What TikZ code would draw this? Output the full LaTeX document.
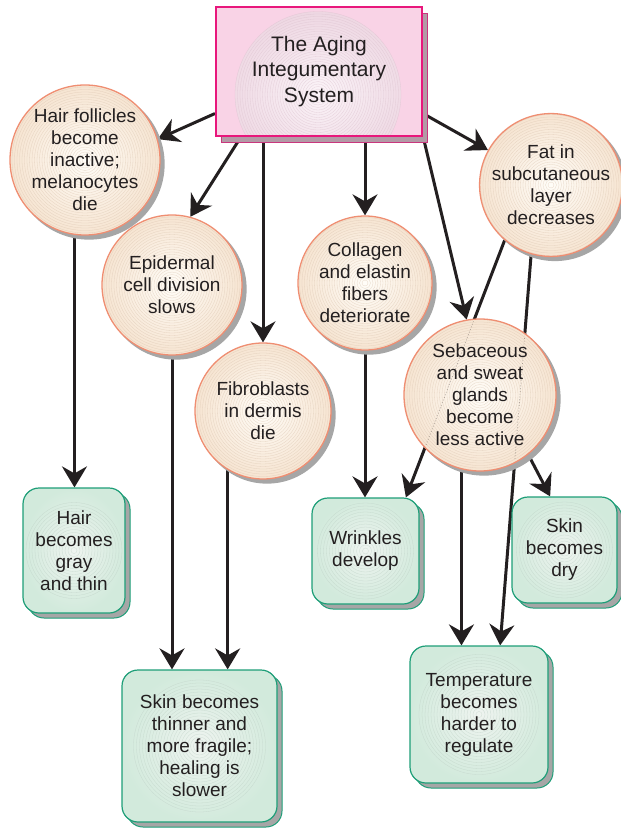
\documentclass[tikz,border=0pt]{standalone}
\usepackage{fontspec}
\setmainfont{Liberation Sans}
\usetikzlibrary{arrows.meta,shadows,backgrounds,calc}
\definecolor{txt}{HTML}{231F20}
\definecolor{circedge}{HTML}{EF8E72}
\definecolor{circin}{HTML}{FFFDF8}
\definecolor{circout}{HTML}{F6E4D1}
\definecolor{ringc}{HTML}{D9C3AE}
\definecolor{shgray}{HTML}{A6A6A6}
\definecolor{grnedge}{HTML}{1E9E78}
\definecolor{grnin}{HTML}{EFF4F0}
\definecolor{grnout}{HTML}{D2EADC}
\definecolor{grnring}{HTML}{BCCFC4}
\definecolor{pinkfill}{HTML}{F9D3E6}
\definecolor{pinkedge}{HTML}{E8177C}
\definecolor{pinkin}{HTML}{FBF4F8}
\definecolor{pinkout}{HTML}{EDD5E1}
\definecolor{pinkring}{HTML}{D9BECB}
\definecolor{pinkshadow}{HTML}{B39AA6}
\newcommand\bodyfont{\fontsize{19}{22}\selectfont}
\newcommand\titlefont{\fontsize{21}{25.5}\selectfont}
\begin{document}
\begin{tikzpicture}[x=1pt,y=-1pt,
  bub/.style={circle, minimum size=#1, inner sep=0pt, draw=circedge, line width=1.3pt,
    inner color=circin, outer color=circout, align=center, text=txt, font=\bodyfont,
    general shadow={fill=shgray, draw=shgray, shadow xshift=4pt, shadow yshift=-4pt},
    path picture={\foreach \r in {3,5.5,...,78}{\draw[ringc, opacity=0.6, line width=0.3pt] (path picture bounding box.center) circle (\r pt);}}},
  res/.style n args={3}{rectangle, rounded corners=16pt, minimum width=#1, minimum height=#2,
    inner sep=0pt, draw=grnedge, line width=1.2pt, inner color=grnin, outer color=grnout,
    align=center, text=txt, font=\bodyfont,
    general shadow={fill=shgray, draw=grnedge, line width=1pt, shadow xshift=5pt, shadow yshift=-5pt},
    path picture={\foreach \r in {3,6,...,#3}{\draw[grnring, opacity=0.6, line width=0.3pt] (path picture bounding box.center) circle (\r pt);}}},
  titlebox/.style={rectangle, minimum width=206pt, minimum height=129pt, inner sep=0pt,
    draw=pinkedge, line width=2.2pt, fill=pinkfill, align=center, text=txt, font=\titlefont,
    general shadow={fill=pinkshadow, draw=pinkedge!70!gray, line width=1pt, shadow xshift=5pt, shadow yshift=-6pt},
    path picture={
      \shade[inner color=pinkin, outer color=pinkout] ([xshift=-1pt,yshift=-23pt]path picture bounding box.center) circle (83pt);
      \foreach \r in {3,5.5,...,83}{\draw[pinkring, opacity=0.6, line width=0.3pt] ([xshift=-1pt,yshift=-23pt]path picture bounding box.center) circle (\r pt);}}},
  arr/.style={-{Stealth[length=21pt,width=25pt,inset=7pt]}, line width=3pt, draw=txt}
]
\useasboundingbox (0,0) rectangle (621,830);

\node[titlebox] (title) at (319,71.5) {The Aging\\Integumentary\\System};

\node[bub=150pt] (hf) at (85,160) {Hair follicles\\become\\inactive;\\melanocytes\\die};
\node[bub=140pt] (ep) at (172,285) {Epidermal\\cell division\\slows};
\node[bub=136pt] (fb) at (263,411) {Fibroblasts\\in dermis\\die};
\node[bub=134pt] (co) at (365,283) {Collagen\\and elastin\\fibers\\deteriorate};
\node[bub=134pt] (fat) at (551,185) {Fat in\\subcutaneous\\layer\\decreases};
\node[bub=152pt] (seb) at (480,395) {Sebaceous\\and sweat\\glands\\become\\less active};

\node[res={102pt}{125pt}{48}] (hg) at (74,550.5) {Hair\\becomes\\gray\\and thin};
\node[res={155pt}{152pt}{66}] (st) at (199.5,746) {Skin becomes\\thinner and\\more fragile;\\healing is\\slower};
\node[res={107pt}{106pt}{50}] (wr) at (365.5,551) {Wrinkles\\develop};
\node[res={105pt}{106pt}{50}] (dry) at (564.5,550) {Skin\\becomes\\dry};
\node[res={138pt}{137pt}{62}] (tp) at (479,714.5) {Temperature\\becomes\\harder to\\regulate};

\begin{scope}[on background layer]
\draw[arr] (title.202.1) -- (hf.16.3);
\draw[arr] (title.220.7) -- (ep.75.2);
\draw[arr] (title.south -| fb.north) -- (fb.north);
\draw[arr] (title.south -| co.north) -- (co.north);
\draw[arr] (title.-32.3) -- (seb.100.9);
\draw[arr] (title.-22.9) -- (fat.151.5);
\draw[arr] (hf.262.3) -- (hf.262.3 |- hg.north);
\draw[arr] (ep.south) -- (ep.south |- st.north);
\draw[arr] (fb.239) -- (fb.239 |- st.north);
\draw[arr] (co.south) -- (co.south |- wr.north);
\draw[arr] (fat.230.3) -- (wr.53.8);
\draw[arr] (fat.254.4) -- (tp.73.2);
\draw[arr] (seb.-51) -- (dry.105.3);
\draw[arr] (seb.256.3) -- (seb.256.3 |- tp.north);
\end{scope}

\begin{scope}
\clip (seb.center) circle (74pt);
\draw[txt, opacity=0.35, dotted, line width=0.8pt] (fat.230.3) -- (wr.53.8) (fat.254.4) -- (tp.73.2);
\end{scope}
\end{tikzpicture}
\end{document}
